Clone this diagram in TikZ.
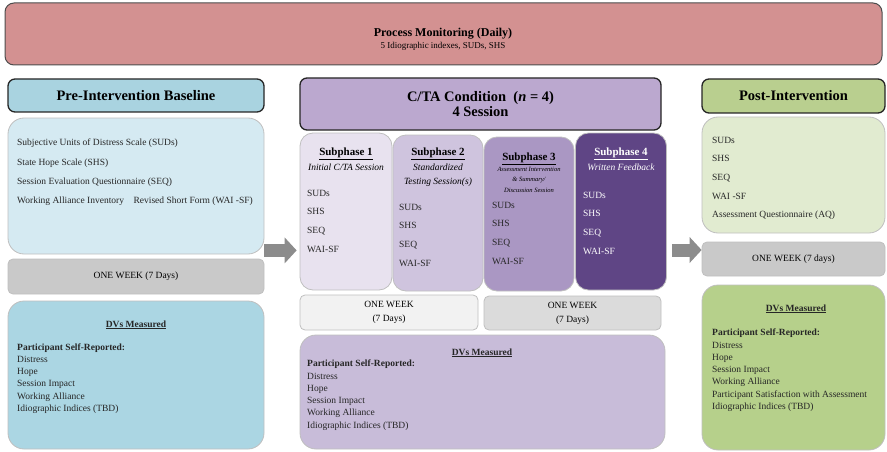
\documentclass[tikz,border=0pt]{standalone}
\usepackage{fontspec}
\setmainfont{Liberation Serif}
\usetikzlibrary{arrows.meta,positioning}
\definecolor{pmred}{HTML}{D39191}
\definecolor{blhd}{HTML}{A9D3E0}
\definecolor{blin}{HTML}{D5EAF2}
\definecolor{bldv}{HTML}{ABD6E3}
\definecolor{wkgr}{HTML}{C9C9C9}
\definecolor{cthd}{HTML}{BBA8CF}
\definecolor{spa}{HTML}{E8E2EF}
\definecolor{spb}{HTML}{CFC4DE}
\definecolor{spc}{HTML}{AA97C3}
\definecolor{spd}{HTML}{5F4585}
\definecolor{ctdv}{HTML}{C8BCD9}
\definecolor{pohd}{HTML}{B9CF8F}
\definecolor{poin}{HTML}{E1EBD0}
\definecolor{podv}{HTML}{B6D08B}
\definecolor{arrgray}{HTML}{8C8C8C}
\tikzset{
  sz/.style 2 args={minimum width=#1pt,minimum height=#2pt},
  hdr/.style={fill=#1,draw=black!85,line width=1.3pt,rounded corners=7pt,inner sep=0pt,
    font=\fontsize{14.5}{15}\selectfont\bfseries,align=center},
  pan/.style={fill=#1,draw=black!25,line width=0.8pt,rounded corners=16pt,inner sep=0pt},
  wk/.style={fill=#1,draw=black!25,line width=0.8pt,rounded corners=5pt,inner sep=0pt,
    font=\fontsize{9.5}{14}\selectfont,align=center},
  txt/.style={font=\fontsize{9.5}{12}\selectfont,inner sep=0pt,text=black!85},
  item/.style={txt,anchor=base west},
  sptl/.style={font=\fontsize{11}{12}\selectfont\bfseries,inner sep=0pt,anchor=base},
  spsb/.style={font=\fontsize{9.5}{12}\selectfont\itshape,inner sep=0pt,anchor=base},
  bigarr/.style={line width=13pt,draw=arrgray,
    -{Triangle[length=12pt,width=26pt,line width=0pt]}},
}
\begin{document}
\begin{tikzpicture}[x=1pt,y=-1pt]
  \useasboundingbox (0,0) rectangle (887,452);
  % daily monitoring banner
  \node[fill=pmred,draw=black!70,line width=1pt,rounded corners=9pt,sz={877}{62}] (pm) at (443.5,34) {};
  \node[font=\fontsize{12}{14}\selectfont\bfseries,anchor=base,inner sep=0pt] (pmt) at (443,37) {Process Monitoring (Daily)};
  \node[font=\fontsize{9}{11}\selectfont,anchor=base,inner sep=0pt] (pms) at (443,49) {5 Idiographic indexes, SUDs, SHS};

  % baseline column
  \node[hdr=blhd,sz={256}{33}] (prehd) at (136,95.5) {Pre-Intervention Baseline};
  \node[pan=blin,sz={256}{136}] (preinfo) at (136,186) {};
  \node[wk=wkgr,sz={256}{35}] (preweek) at (136,276.5) {ONE WEEK (7 Days)};
  \node[pan=bldv,sz={256}{148}] (predvs) at (136,375) {};

  % C/TA column
  \node[hdr=cthd,sz={361}{52}] (cthd) at (480.5,104) {C/TA Condition\enspace(\textit{n} = 4)\\4 Session};
  \node[pan=spa,rounded corners=13pt,sz={92}{157}] (sub1) at (346,211.5) {};
  \node[pan=spb,rounded corners=13pt,sz={90}{156}] (sub2) at (438,213) {};
  \node[pan=spc,rounded corners=13pt,sz={90}{154}] (sub3) at (529,214) {};
  \node[pan=spd,rounded corners=13pt,sz={91}{157}] (sub4) at (621,211.5) {};
  \node[wk=black!5,sz={178}{35}] (ctweek1) at (389,312.5) {ONE WEEK\\(7 Days)};
  \node[wk=black!14,sz={177}{34}] (ctweek2) at (572.5,313) {ONE WEEK\\(7 Days)};
  \node[pan=ctdv,sz={365}{114}] (ctdvs) at (482.5,392) {};

  % post column
  \node[hdr=pohd,sz={183}{34}] (pohd) at (793.5,96) {Post-Intervention};
  \node[pan=poin,sz={183}{116}] (poinfo) at (793.5,175) {};
  \node[wk=wkgr,sz={183}{34}] (poweek) at (793.5,259) {ONE WEEK (7 days)};
  \node[pan=podv,sz={183}{165}] (podvs) at (793.5,367.5) {};

  % arrows
  \coordinate (la) at ([yshift=4pt]preinfo.south east);
  \coordinate (ra) at ([yshift=9pt]poweek.west);
  \draw[bigarr,shorten >=3pt] (la) -- (la -| sub1.west);
  \draw[bigarr,shorten <=5pt] (ra -| sub4.east) -- (ra);

  % baseline texts
  \foreach \t [count=\i] in {Subjective Units of Distress Scale (SUDs),State Hope Scale (SHS),
      Session Evaluation Questionnaire (SEQ),Working Alliance Inventory\hspace{1em}Revised Short Form (WAI -SF)}
    \node[item] (pre-\i) at (17,{146+(\i-1)*19.3}) {\t};
  \node[txt,anchor=base,font=\fontsize{9.5}{12}\selectfont\bfseries] (predt) at (136,327) {\underline{DVs Measured}};
  \node[item,font=\fontsize{9.5}{12}\selectfont\bfseries] (prepsr) at (17,350) {Participant Self-Reported:};
  \foreach \t [count=\i] in {Distress,Hope,Session Impact,Working Alliance,Idiographic Indices (TBD)}
    \node[item] (predv-\i) at (17,{362.3+(\i-1)*12.3}) {\t};

  % subphases
  \node[sptl] (s1t) at (346,155.5) {\underline{Subphase 1}};
  \node[spsb] (s1s) at (346,170) {Initial C/TA Session};
  \node[sptl] (s2t) at (438,155.5) {\underline{Subphase 2}};
  \node[spsb] (s2s) at (438,170) {Standardized};
  \node[spsb] (s2u) at (438,184) {Testing Session(s)};
  \node[sptl] (s3t) at (529,160.5) {\underline{Subphase 3}};
  \foreach \t [count=\i] in {Assessment Intervention,\& Summary/,Discussion Session}
    \node[spsb,font=\fontsize{6.5}{8}\selectfont\itshape] (s3s-\i) at (529,{171+(\i-1)*10.5}) {\t};
  \node[sptl,text=white] (s4t) at (621,155.5) {\underline{Subphase 4}};
  \node[spsb,text=white] (s4s) at (621,170) {Written Feedback};
  \foreach \t [count=\i] in {SUDs,SHS,SEQ,WAI-SF} {
    \node[item] (s1-\i) at (307,{196+(\i-1)*18.7}) {\t};
    \node[item] (s2-\i) at (399,{210+(\i-1)*18.7}) {\t};
    \node[item] (s3-\i) at (492,{208+(\i-1)*18.7}) {\t};
    \node[item,text=white] (s4-\i) at (583,{198+(\i-1)*18.7}) {\t};
  }
  \node[txt,anchor=base,font=\fontsize{9.5}{12}\selectfont\bfseries] (ctdt) at (482,355) {\underline{DVs Measured}};
  \node[item,font=\fontsize{9.5}{12}\selectfont\bfseries] (ctpsr) at (307,366) {Participant Self-Reported:};
  \foreach \t [count=\i] in {Distress,Hope,Session Impact,Working Alliance,Idiographic Indices (TBD)}
    \node[item] (ctdv-\i) at (307,{379+(\i-1)*12.3}) {\t};

  % post texts
  \foreach \t [count=\i] in {SUDs,SHS,SEQ,WAI -SF,Assessment Questionnaire (AQ)}
    \node[item] (po-\i) at (712,{143+(\i-1)*18.7}) {\t};
  \node[txt,anchor=base,font=\fontsize{9.5}{12}\selectfont\bfseries] (podt) at (796,311) {\underline{DVs Measured}};
  \node[item,font=\fontsize{9.5}{12}\selectfont\bfseries] (popsr) at (712,335) {Participant Self-Reported:};
  \foreach \t [count=\i] in {Distress,Hope,Session Impact,Working Alliance,
      Participant Satisfaction with Assessment,Idiographic Indices (TBD)}
    \node[item] (podv-\i) at (712,{348+(\i-1)*12.3}) {\t};
\end{tikzpicture}
\end{document}
